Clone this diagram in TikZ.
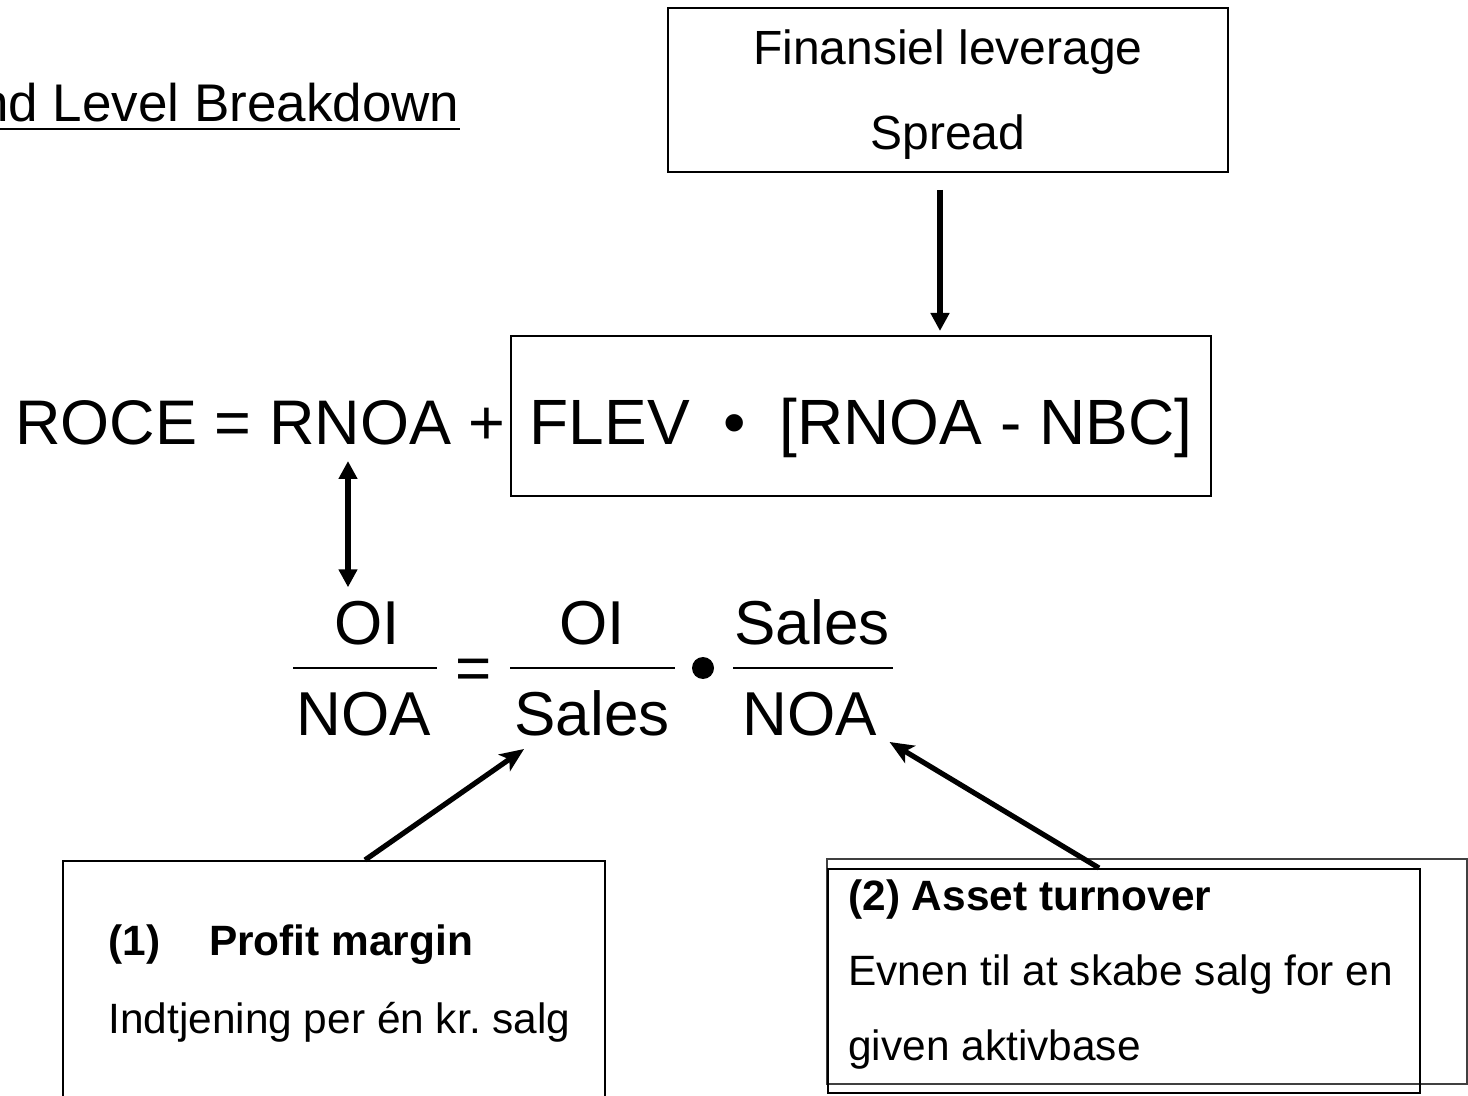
\documentclass[tikz,border=0pt]{standalone}
\usepackage{fontspec}
\setmainfont{Liberation Sans}
\usetikzlibrary{arrows.meta, positioning, calc}

\tikzset{
  box/.style={draw, line width=1pt, inner sep=0pt},
  bigtxt/.style={font=\fontsize{31}{37}\selectfont, inner sep=0pt, anchor=base},
  note/.style={font=\fontsize{21.2}{25}\selectfont, inner sep=0pt, anchor=base west},
  boxtxt/.style={font=\fontsize{24}{28}\selectfont, inner sep=0pt, anchor=base},
  fracbar/.style={line width=1.2pt},
  varr/.style={line width=2.6pt, -{Triangle[length=9pt,width=9pt]}},
  darr/.style={line width=2.6pt, -{Stealth[length=12pt,width=10pt,inset=3pt]}},
}

\begin{document}
\frenchspacing
\begin{tikzpicture}[x=0.5pt, y=-0.5pt]
  \useasboundingbox (0,0) rectangle (1468,1096);

  % heading (runs off the left edge)
  \node[anchor=base east, inner sep=0pt, font=\fontsize{26.5}{30}\selectfont] (title) at (460,122) {2nd Level Breakdown};
  \draw[line width=1.3pt] ([yshift=-3.5pt]title.base west) -- ([yshift=-3.5pt]title.base east);

  % leverage box
  \node[box, minimum width=280pt, minimum height=82pt] (fin) at (948,90) {};
  \node[boxtxt] (finlev) at (948,65) {Finansiel leverage};
  \node[boxtxt] (spread) at (948,150) {Spread};

  % main identity
  \node[bigtxt, font=\fontsize{31.5}{37}\selectfont, anchor=base west] (roce) at (15,445) {ROCE = RNOA +};
  \node[box, minimum width=350pt, minimum height=80pt, text height=29pt, text depth=0pt,
        font=\fontsize{32}{37}\selectfont] (flev) at (861,416) {FLEV\hspace{8pt} • \hspace{8pt}[RNOA - NBC]};
  \draw[varr, shorten <=8.5pt, shorten >=2pt] ([xshift=-4pt]fin.south) -- ([xshift=-4pt]fin.south |- flev.north);

  % RNOA split
  \node[bigtxt] (num1) at (367,645) {OI};
  \node[bigtxt] (den1) at (364,735) {NOA};
  \draw[fracbar] (293,668) -- (437,668);
  \node[bigtxt] (eq) at (474,689) {=};
  \node[bigtxt] (num2) at (592,645) {OI};
  \node[bigtxt] (den2) at (592,735) {Sales};
  \draw[fracbar] (510,668) -- (675,668);
  \node[circle, fill, minimum size=11pt, inner sep=0pt] (dot) at (703,668) {};
  \node[bigtxt] (num3) at (812,645) {Sales};
  \node[bigtxt] (den3) at (810,735) {NOA};
  \draw[fracbar] (733,668) -- (893,668);

  \coordinate (rnoaN) at (348,461);
  \draw[line width=2.6pt, {Triangle[length=9pt,width=9pt]}-{Triangle[length=9pt,width=9pt]}, shorten >=7pt]
    (rnoaN) -- (rnoaN |- num1.north);

  % profit margin
  \node[box, anchor=north west, minimum width=271pt, minimum height=135pt] (pm) at (62,860) {};
  \node[note, font=\fontsize{21.2}{25}\selectfont\bfseries] (pmhead) at (108,955) {(1)\hspace{24.5pt}Profit margin};
  \node[note] (pmtext) at (108,1033) {Indtjening per én kr. salg};

  % asset turnover
  \draw[line width=0.6pt, black!75] (827,859) rectangle (1467,1084);
  \node[box, anchor=north west, minimum width=296pt, minimum height=112pt] (at) at (827,868) {};
  \node[note, font=\fontsize{21.2}{25}\selectfont\bfseries] (athead) at (848,910) {(2) Asset turnover};
  \node[note] (attext1) at (848,985) {Evnen til at skabe salg for en};
  \node[note] (attext2) at (848,1060) {given aktivbase};

  \coordinate (pmtip) at ([shift={(5pt,-6.5pt)}]den2.south west);
  \coordinate (attip) at ([shift={(6pt,-3pt)}]den3.south east);
  \draw[darr] ([xshift=15.5pt]pm.north) -- (pmtip);
  \draw[darr] ([xshift=-12.5pt]at.north) -- (attip);
\end{tikzpicture}
\end{document}
